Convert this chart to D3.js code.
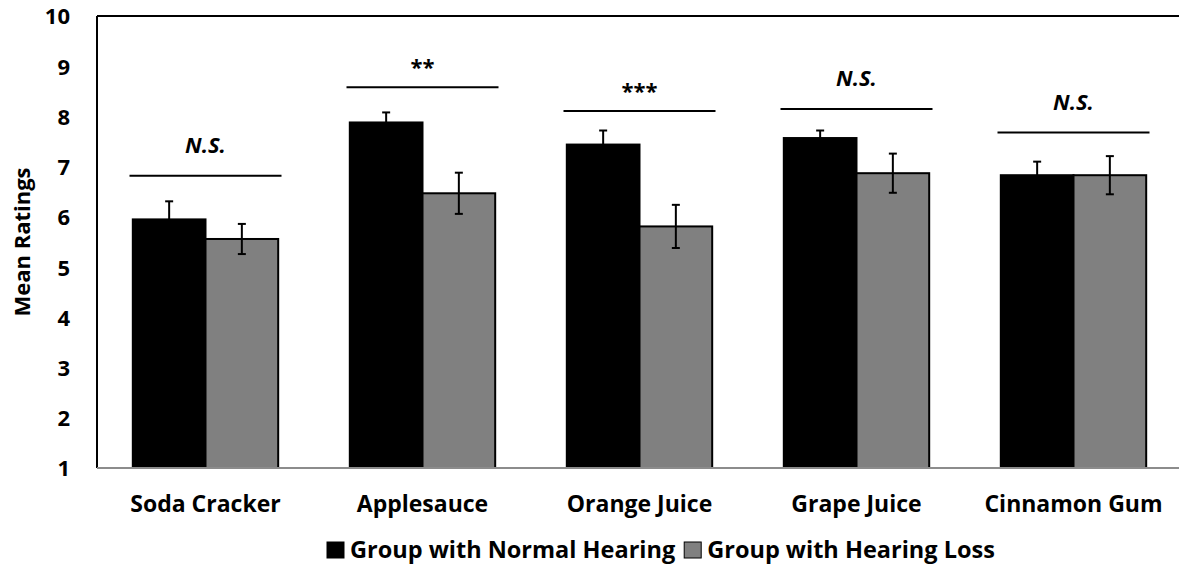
<!DOCTYPE html>
<html>
<head>
<meta charset="utf-8">
<title>Mean Ratings</title>
<style>
  body { margin: 0; background: #fff; }
  svg { display: block; font-family: "Open Sans", Lato, sans-serif; font-weight: bold; }
</style>
</head>
<body>
<main></main>
<script src="https://cdnjs.cloudflare.com/ajax/libs/d3/7.8.5/d3.min.js"></script>
<script>
const categories = ["Soda Cracker", "Applesauce", "Orange Juice", "Grape Juice", "Cinnamon Gum"];
const seriesNames = ["Group with Normal Hearing", "Group with Hearing Loss"];
const normalMeans = [5.95, 7.88, 7.44, 7.57, 6.83];
const normalErrs = [0.36, 0.20, 0.28, 0.15, 0.27];
const lossMeans = [5.56, 6.47, 5.81, 6.87, 6.83];
const lossErrs = [0.30, 0.41, 0.43, 0.39, 0.38];
const sigLabels = ["N.S.", "**", "***", "N.S.", "N.S."];
const sigLevels = [6.82, 8.58, 8.11, 8.15, 7.68];
const yTicks = [1, 2, 3, 4, 5, 6, 7, 8, 9, 10];

const width = 1179, height = 567;
const margin = {top: 16, right: -3, bottom: 99, left: 97};
const colors = ["#000000", "#808080"];

const svg = d3.select("main").append("svg")
  .attr("width", width)
  .attr("height", height);

const x = d3.scaleBand()
  .domain(categories)
  .range([margin.left, width - margin.right])
  .paddingInner(0.33)
  .paddingOuter(0.165);

const xs = d3.scaleBand()
  .domain(seriesNames)
  .range([0, x.bandwidth()]);

const y = d3.scaleLinear()
  .domain([1, 10])
  .range([height - margin.bottom, margin.top]);

const rows = categories.map((c, i) => ({
  cat: c,
  vals: [
    {s: seriesNames[0], v: normalMeans[i], e: normalErrs[i]},
    {s: seriesNames[1], v: lossMeans[i], e: lossErrs[i]}
  ],
  sig: sigLabels[i],
  level: sigLevels[i]
}));

// frame
svg.append("line")
  .attr("x1", margin.left).attr("x2", width)
  .attr("y1", y(10)).attr("y2", y(10))
  .attr("stroke", "#000").attr("stroke-width", 2);
svg.append("line")
  .attr("x1", margin.left).attr("x2", margin.left)
  .attr("y1", y(10)).attr("y2", y(1))
  .attr("stroke", "#000").attr("stroke-width", 2);

// y axis labels
const yAxis = svg.append("g")
  .attr("transform", `translate(${margin.left},0)`)
  .call(d3.axisLeft(y).tickValues(yTicks).tickSize(0).tickPadding(27).tickFormat(d3.format("d")));
yAxis.select(".domain").remove();
yAxis.selectAll("text")
  .attr("font-size", 22)
  .attr("font-family", "'Open Sans', sans-serif")
  .attr("font-weight", "bold")
  .attr("dy", "0.36em")
  .attr("fill", "#000");

svg.append("text")
  .attr("transform", `translate(30,${(y(1) + y(10)) / 2}) rotate(-90)`)
  .attr("text-anchor", "middle")
  .attr("font-size", 22)
  .text("Mean Ratings");

// bars
const groups = svg.append("g")
  .selectAll("g")
  .data(rows)
  .join("g")
  .attr("transform", d => `translate(${x(d.cat)},0)`);

groups.selectAll("rect")
  .data(d => d.vals)
  .join("rect")
  .attr("x", d => xs(d.s))
  .attr("width", xs.bandwidth())
  .attr("y", d => y(d.v))
  .attr("height", d => y(1) - y(d.v))
  .attr("fill", (d, i) => colors[i])
  .attr("stroke", "#000")
  .attr("stroke-width", 2);

// error bars
const err = groups.selectAll("g.err")
  .data(d => d.vals)
  .join("g")
  .attr("class", "err")
  .attr("stroke", "#000")
  .attr("stroke-width", 2);
err.append("line")
  .attr("x1", d => xs(d.s) + xs.bandwidth() / 2)
  .attr("x2", d => xs(d.s) + xs.bandwidth() / 2)
  .attr("y1", d => y(d.v + d.e))
  .attr("y2", d => y(d.v - d.e));
err.append("line")
  .attr("x1", d => xs(d.s) + xs.bandwidth() / 2 - 4)
  .attr("x2", d => xs(d.s) + xs.bandwidth() / 2 + 4)
  .attr("y1", d => y(d.v + d.e))
  .attr("y2", d => y(d.v + d.e));
err.append("line")
  .attr("x1", d => xs(d.s) + xs.bandwidth() / 2 - 4)
  .attr("x2", d => xs(d.s) + xs.bandwidth() / 2 + 4)
  .attr("y1", d => y(d.v - d.e))
  .attr("y2", d => y(d.v - d.e));

// x axis baseline (gray)
svg.append("line")
  .attr("x1", margin.left).attr("x2", width)
  .attr("y1", y(1)).attr("y2", y(1))
  .attr("stroke", "#8c8c8c").attr("stroke-width", 2);

// significance lines
groups.append("line")
  .attr("x1", x.bandwidth() / 2 - 76)
  .attr("x2", x.bandwidth() / 2 + 76)
  .attr("y1", d => y(d.level))
  .attr("y2", d => y(d.level))
  .attr("stroke", "#000")
  .attr("stroke-width", 2);
groups.append("text")
  .attr("x", x.bandwidth() / 2)
  .attr("y", d => y(d.level) - (d.sig === "N.S." ? 23 : 12))
  .attr("text-anchor", "middle")
  .attr("font-size", 22)
  .attr("font-style", d => d.sig === "N.S." ? "italic" : "normal")
  .text(d => d.sig);

// category labels
svg.append("g")
  .selectAll("text")
  .data(categories)
  .join("text")
  .attr("x", d => x(d) + x.bandwidth() / 2)
  .attr("y", 512)
  .attr("text-anchor", "middle")
  .attr("font-size", 23)
  .text(d => d);

// legend
const legend = svg.append("g").attr("transform", "translate(327,0)");
let lx = 0;
seriesNames.forEach((name, i) => {
  const item = legend.append("g").attr("transform", `translate(${lx},0)`);
  item.append("rect")
    .attr("x", 0).attr("y", 542)
    .attr("width", 17).attr("height", 16)
    .attr("fill", colors[i])
    .attr("stroke", "#000").attr("stroke-width", 1);
  const t = item.append("text")
    .attr("x", 23).attr("y", 558)
    .attr("font-size", 23.5)
    .text(name);
  lx += 23 + t.node().getComputedTextLength() + 9;
});
</script>
</body>
</html>
